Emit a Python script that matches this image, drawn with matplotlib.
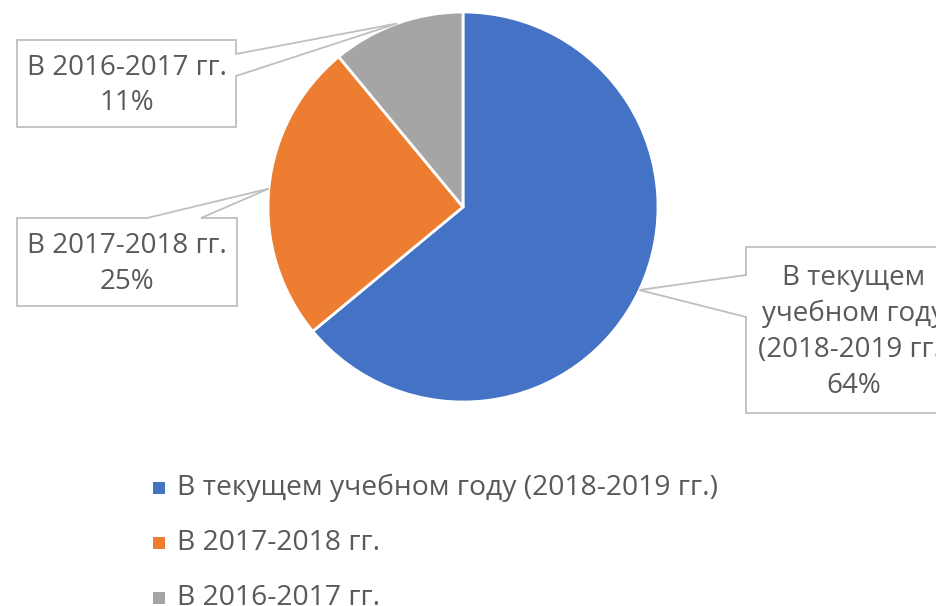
import matplotlib
matplotlib.use('Agg')
import matplotlib.pyplot as plt
from matplotlib.patches import Rectangle, Polygon
import numpy as np

# data
labels = ['В текущем учебном году (2018-2019 гг.)', 'В 2017-2018 гг.', 'В 2016-2017 гг.']
box_texts = ['В текущем\nучебном году\n(2018-2019 гг.)\n64%',
             'В 2017-2018 гг.\n25%',
             'В 2016-2017 гг.\n11%']
shares = [64, 25, 11]
colors = ['#4472C4', '#ED7D31', '#A5A5A5']

plt.rcParams['font.family'] = ['Open Sans', 'DejaVu Sans']
txt_color = '#595959'
line_color = '#BFBFBF'
fs = 20

W, H = 937, 606
fig = plt.figure(figsize=(W / 100, H / 100), dpi=100)

# pie
cx, cy, r = 463, 207, 195
ax = fig.add_axes([(cx - r) / W, 1 - (cy + r) / H, 2 * r / W, 2 * r / H])
wedges, _ = ax.pie(shares, colors=colors, startangle=90, counterclock=False,
                   wedgeprops=dict(edgecolor='white', linewidth=2))
ax.set_xlim(-1, 1)
ax.set_ylim(-1, 1)

# overlay in pixel coords for callouts and legend
ov = fig.add_axes([0, 0, 1, 1], facecolor='none')
ov.set_xlim(0, W)
ov.set_ylim(H, 0)
ov.axis('off')

# callout boxes: (left, top, right, bottom), side of pointer, pointer base span
boxes = [((746, 247, 962, 413), 'left', (275, 317)),
         ((17, 218, 237, 306), 'top', (147, 201)),
         ((17, 40, 236, 127), 'right', (54, 76))]

to_px = ax.transData + ov.transData.inverted()
for w, txt, (box, side, (b1, b2)) in zip(wedges, box_texts, boxes):
    ang = np.deg2rad((w.theta1 + w.theta2) / 2)
    tip = tuple(to_px.transform((np.cos(ang), np.sin(ang))))
    L, T, R, B = box
    if side == 'left':
        verts = [(L, T), (R, T), (R, B), (L, B), (L, b2), tip, (L, b1)]
    elif side == 'top':
        verts = [(L, T), (b1, T), tip, (b2, T), (R, T), (R, B), (L, B)]
    else:
        verts = [(L, T), (R, T), (R, b1), tip, (R, b2), (R, B), (L, B)]
    ov.add_patch(Polygon(verts, closed=True, facecolor='white',
                         edgecolor=line_color, linewidth=1.3))
    ov.text((L + R) / 2, (T + B) / 2 + 2, txt, ha='center', va='center',
            color=txt_color, fontsize=fs, linespacing=1.38)

# legend
for i, (lab, col) in enumerate(zip(labels, colors)):
    y = 488 + i * 55
    ov.add_patch(Rectangle((153, y - 6), 12, 12, facecolor=col, edgecolor='none'))
    ov.text(177, y, lab, ha='left', va='center', color=txt_color, fontsize=fs + 0.3)

fig.savefig('out.png', dpi=100)
